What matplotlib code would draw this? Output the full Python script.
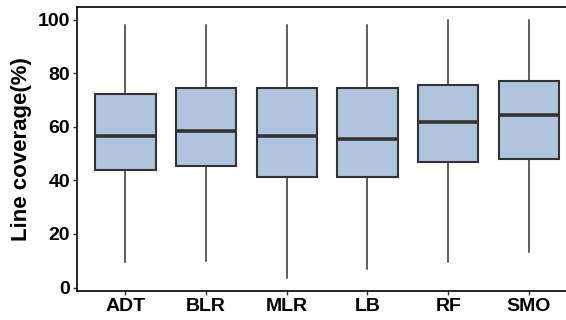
import matplotlib
matplotlib.use("Agg")
import matplotlib.pyplot as plt

plt.rcParams['font.family'] = ['Liberation Sans', 'DejaVu Sans']

# values (percent)
models = ["ADT", "BLR", "MLR", "LB", "RF", "SMO"]
whisker_low = [9.6, 9.8, 3.4, 7.0, 9.6, 13.1]
q1 = [43.9, 45.5, 41.3, 41.4, 46.8, 47.9]
median = [56.6, 58.5, 56.7, 55.6, 61.7, 64.5]
q3 = [72.4, 74.6, 74.6, 74.6, 75.6, 77.2]
whisker_high = [98.1, 98.1, 98.1, 98.1, 100.0, 100.0]

stats = []
for i, name in enumerate(models):
    stats.append({
        "label": name,
        "whislo": whisker_low[i],
        "q1": q1[i],
        "med": median[i],
        "q3": q3[i],
        "whishi": whisker_high[i],
        "fliers": [],
    })

edge = "#333333"
fig = plt.figure(figsize=(5.66, 3.2), dpi=100)
ax = fig.add_axes([0.136, 0.0906, 0.884, 0.8875])

ax.bxp(stats, positions=range(1, len(models) + 1), widths=0.75,
       patch_artist=True, showcaps=False, showfliers=False,
       boxprops=dict(facecolor="#B0C4DE", edgecolor=edge, linewidth=1.5),
       medianprops=dict(color=edge, linewidth=2.6, solid_capstyle="butt"),
       whiskerprops=dict(color=edge, linewidth=1.1))

ax.set_xlim(0.4, 6.6)
ax.set_ylim(-1.3, 104.8)
ax.set_yticks([0, 20, 40, 60, 80, 100])
ax.set_xticks(range(1, len(models) + 1))
ax.set_xticklabels(models)
ax.set_ylabel("Line coverage(%)", fontsize=16, fontweight="bold", labelpad=4)
for lab in ax.get_xticklabels() + ax.get_yticklabels():
    lab.set_fontweight("bold")
    lab.set_fontsize(14)
    lab.set_color("black")
ax.tick_params(axis="both", length=3, width=1, color=edge, pad=2)
for sp in ax.spines.values():
    sp.set_linewidth(1.2)
    sp.set_color("black")

fig.savefig("out.png", dpi=100)
